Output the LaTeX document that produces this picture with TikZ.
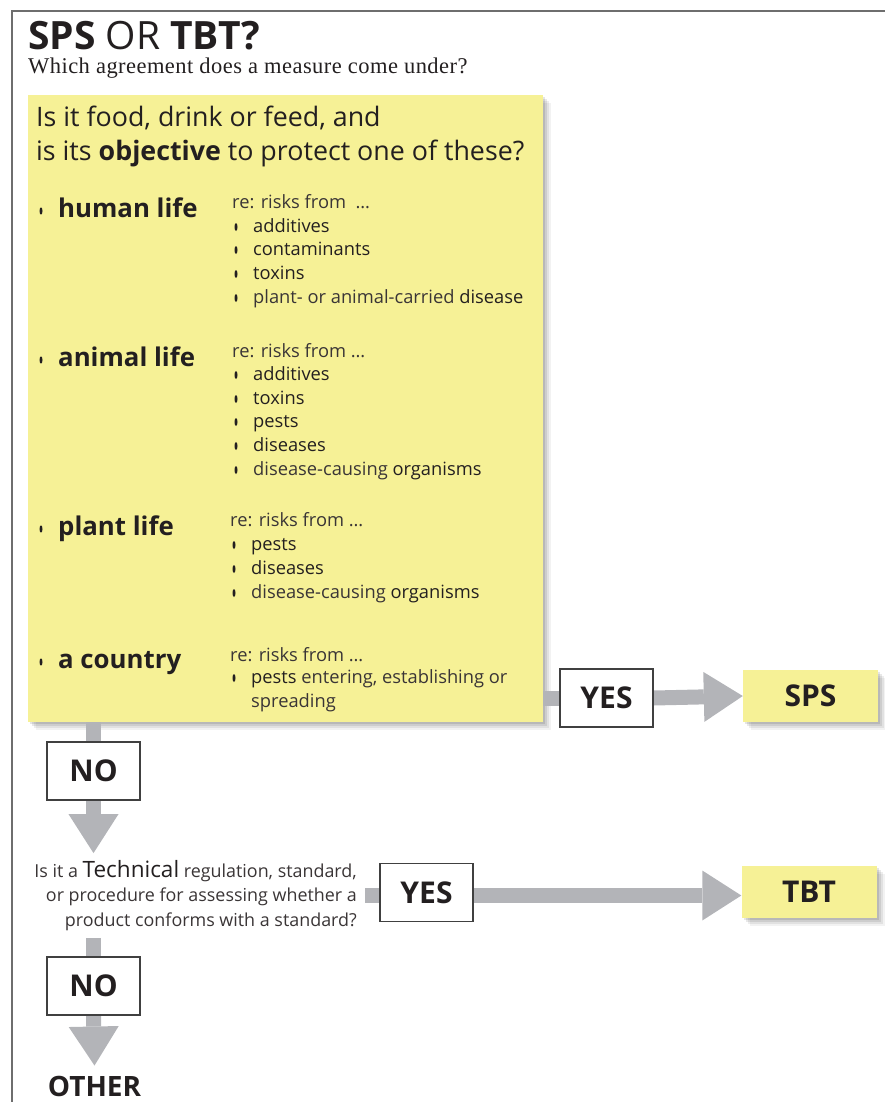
\documentclass[tikz,border=0pt]{standalone}
\usepackage{fontspec}
\setmainfont{Open Sans}
\newfontfamily\seriffont[LetterSpace=2]{Liberation Serif}
\usetikzlibrary{arrows.meta,shadows,calc}
\definecolor{ylw}{HTML}{F6F196}
\definecolor{bandc}{HTML}{B3B4B8}
\definecolor{ink}{HTML}{231F20}
\definecolor{litec}{HTML}{3A3536}
\definecolor{framec}{HTML}{6E6E6E}
\newcommand\lt[1]{{\color{litec}#1}}
\tikzset{
  yshadow/.style={
    general shadow={fill=black,opacity=.05,shadow xshift=8pt,shadow yshift=-8pt},
    general shadow={fill=black,opacity=.07,shadow xshift=6pt,shadow yshift=-6pt},
    general shadow={fill=black,opacity=.09,shadow xshift=4pt,shadow yshift=-4pt},
    general shadow={fill=black,opacity=.10,shadow xshift=2pt,shadow yshift=-2pt}},
  ybox/.style={fill=ylw,draw=none,inner sep=0,yshadow},
  wbox/.style={draw=black!75,line width=1.3pt,fill=white,minimum width=93pt,
    minimum height=58pt,inner sep=0,text=ink,font=\fontsize{30}{30}\selectfont\bfseries},
  rbox/.style={ybox,minimum width=135pt,minimum height=52pt,text=ink,
    font=\fontsize{30}{30}\selectfont\bfseries},
  bandline/.style={draw=bandc,line width=15pt},
  bandarrow/.style={bandline,-{Triangle[length=39pt,width=50pt,line width=0pt]}},
  txt/.style={anchor=base west,inner sep=0,text=ink},
  head/.style={txt,font=\fontsize{25.8}{28}\selectfont\bfseries},
  itm/.style={txt,font=\fontsize{18.3}{20}\selectfont},
  big/.style={txt,font=\fontsize{26.8}{30}\selectfont},
}
\newcommand\bigbul[2]{\fill[ink] (#1,#2) ellipse (1.5pt and 3.6pt);}
\newcommand\smbul[2]{\fill[ink] (#1,#2) ellipse (1.5pt and 4pt);}
\begin{document}
\begin{tikzpicture}[x=1pt,y=-1pt]
\useasboundingbox (0,0) rectangle (885,1102);
% frame
\draw[framec,line width=1.6pt] (885,11) -- (12,11) -- (12,1102);
% title
\node[txt,font=\fontsize{39}{40}\selectfont] (title) at (28,50)
  {\textbf{SPS} OR \textbf{TBT?}};
\node[txt,font=\seriffont\fontsize{22.5}{24}\selectfont] (sub) at (28,74)
  {Which agreement does a measure come under?};
% big yellow question box
\node[ybox,minimum width=515pt,minimum height=627pt] (q1) at (285.5,408.5) {};
\node[big] (l1) at (36,127) {Is it food, drink or feed, and};
\node[big] (l2) at (36,161) {is its \textbf{objective} to protect one of these?};
% human life
\bigbul{41}{211}
\node[head] (hl) at (58,217) {human life};
\node[itm] (hlre) at (232,208) {\lt{re: risks from \ \dots}};
\smbul{236}{227}\node[itm] (hl1) at (253,232) {additives};
\smbul{236}{250}\node[itm] (hl2) at (253,255) {contaminants};
\smbul{236}{274}\node[itm] (hl3) at (253,279) {toxins};
\smbul{236}{298}\node[itm] (hl4) at (253,303) {\lt{plant- or animal-carried} disease};
% animal life
\bigbul{41}{360}
\node[head] (al) at (58,366) {animal life};
\node[itm] (alre) at (232,357) {\lt{re: risks from \dots}};
\smbul{236}{375}\node[itm] (al1) at (253,380) {additives};
\smbul{236}{399}\node[itm] (al2) at (253,404) {toxins};
\smbul{236}{422}\node[itm] (al3) at (253,427) {pests};
\smbul{236}{446}\node[itm] (al4) at (253,451) {diseases};
\smbul{236}{470}\node[itm] (al5) at (253,475) {\lt{disease-causing} organisms};
% plant life
\bigbul{41}{529}
\node[head] (pl) at (58,535) {plant life};
\node[itm] (plre) at (230,526) {\lt{re: risks from \dots}};
\smbul{234}{545}\node[itm] (pl1) at (251,550) {pests};
\smbul{234}{569}\node[itm] (pl2) at (251,574) {diseases};
\smbul{234}{593}\node[itm] (pl3) at (251,598) {\lt{disease-causing} organisms};
% a country
\bigbul{41}{662}
\node[head] (co) at (58,668) {a country};
\node[itm] (core) at (230,661) {\lt{re: risks from \dots}};
\smbul{234}{678}\node[itm] (co1) at (251,683) {pests \lt{entering, establishing or}};
\node[itm] (co2) at (251,707) {\lt{spreading}};
% second question
\node[anchor=east,inner xsep=8pt,inner ysep=7pt,align=right,text=litec,
  font=\fontsize{17.9}{24.5}\selectfont] (q2) at (365,895.5)
  {Is it a {\color{ink}\fontsize{22.5}{24.5}\selectfont Technical} regulation, standard,\\
   or procedure for assessing whether a\\
   product conforms with a standard?};
% answer boxes
\node[wbox] (yes1) at (606.5,698) {};
\node[rbox] (sps) at (810.5,696) {SPS};
\node[wbox] (no1) at (93.5,771) {};
\node[wbox] (yes2) at (426.5,892.5) {};
\node[rbox] (tbt) at (809,891.5) {TBT};
\node[wbox] (no2) at (93.5,986) {};
\node[txt,anchor=center,inner ysep=10pt,font=\fontsize{28}{30}\selectfont\bfseries]
  (other) at (94.5,1086) {OTHER};
% connectors
\draw[bandline] (q1.east |- yes1.west) -- (yes1.west);
\draw[bandarrow] (yes1.east) -- (sps.west);
\draw[bandline] (no1.north |- q1.south) -- (no1.north);
\draw[bandarrow] (no1.south) -- (no1.south |- q2.north);
\draw[bandline] (q2.east) -- (q2.east -| yes2.west);
\draw[bandarrow] (yes2.east |- q2.east) -- (tbt.west |- q2.east);
\draw[bandline] (no2.north |- q2.south) -- (no2.north);
\draw[bandarrow] (no2.south) -- (other.north);
% boxes on top of bands
\node[wbox] at (yes1) {YES};
\node[wbox] at (no1) {NO};
\node[wbox] at (yes2) {YES};
\node[wbox] at (no2) {NO};
\end{tikzpicture}
\end{document}
